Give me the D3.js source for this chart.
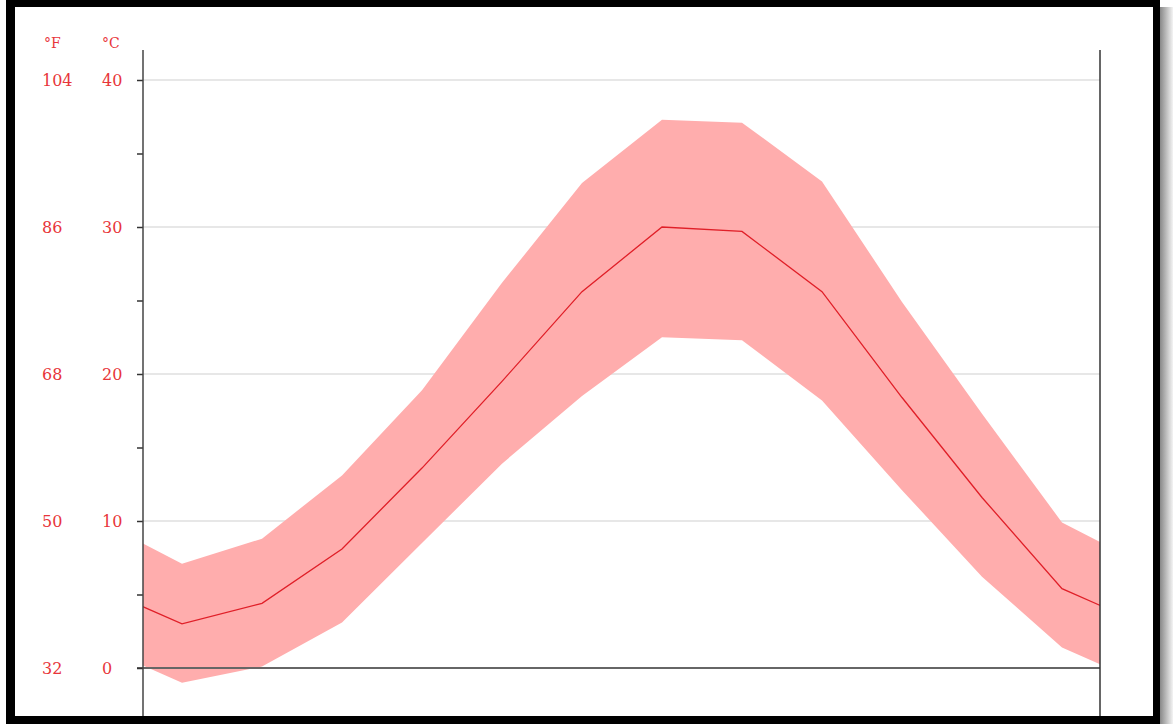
<!DOCTYPE html>
<html>
<head>
<meta charset="UTF-8">
<title>Climate chart</title>
<script src="https://d3js.org/d3.v7.min.js"></script>
<style>
  body { margin: 0; background: #fff; }
  svg text { font-family: "DejaVu Serif", serif; }
</style>
</head>
<body>
<div id="chart"></div>
<script>
// data (°C)
var months = ["Jan", "Feb", "Mar", "Apr", "May", "Jun", "Jul", "Aug", "Sep", "Oct", "Nov", "Dec"];
var tMean = [3.0, 4.4, 8.1, 13.6, 19.5, 25.6, 30.0, 29.7, 25.6, 18.4, 11.6, 5.4];
var tMax  = [7.1, 8.8, 13.1, 18.9, 26.2, 33.0, 37.3, 37.1, 33.1, 24.9, 17.3, 9.9];
var tMin  = [-1.0, 0.1, 3.1, 8.5, 13.9, 18.5, 22.5, 22.3, 18.2, 12.1, 6.2, 1.4];
var cTicks = [0, 10, 20, 30, 40];
var fTicks = [32, 50, 68, 86, 104];
var minorTicks = [5, 15, 25, 35];

var W = 1173, H = 724;
var plotLeft = 143, plotRight = 1100;

var svg = d3.select("#chart").append("svg")
  .attr("width", W)
  .attr("height", H);

var x = d3.scaleLinear().domain([0, 11]).range([182, 1062]);
var y = d3.scaleLinear().domain([0, 40]).range([668, 80]);

// wrap the year round so the curve runs to both edges
var rows = months.map(function(m, i) {
  return { i: i, mean: tMean[i], hi: tMax[i], lo: tMin[i] };
});
var wrapped = [{ i: -1, mean: tMean[11], hi: tMax[11], lo: tMin[11] }]
  .concat(rows)
  .concat([{ i: 12, mean: tMean[0], hi: tMax[0], lo: tMin[0] }]);

svg.append("defs").append("clipPath").attr("id", "plotclip")
  .append("rect")
  .attr("x", plotLeft).attr("y", 0)
  .attr("width", plotRight - plotLeft).attr("height", H);

// gridlines
svg.append("g")
  .selectAll("line")
  .data(cTicks.filter(function(d) { return d !== 0; }))
  .enter().append("line")
  .attr("x1", plotLeft).attr("x2", plotRight)
  .attr("y1", function(d) { return y(d); })
  .attr("y2", function(d) { return y(d); })
  .attr("stroke", "#cfcfcf")
  .attr("stroke-width", 1);

var plot = svg.append("g").attr("clip-path", "url(#plotclip)");

plot.append("path")
  .datum(wrapped)
  .attr("fill", "#ffadad")
  .attr("d", d3.area()
    .x(function(d) { return x(d.i); })
    .y0(function(d) { return y(d.lo); })
    .y1(function(d) { return y(d.hi); }));

plot.append("path")
  .datum(wrapped)
  .attr("fill", "none")
  .attr("stroke", "#e01f28")
  .attr("stroke-width", 1.3)
  .attr("d", d3.line()
    .x(function(d) { return x(d.i); })
    .y(function(d) { return y(d.mean); }));

// zero line
svg.append("line")
  .attr("x1", plotLeft - 6).attr("x2", plotRight)
  .attr("y1", y(0)).attr("y2", y(0))
  .attr("stroke", "#666")
  .attr("stroke-width", 2);

// left axis ticks
var ax = svg.append("g").attr("transform", "translate(" + plotLeft + ",0)");
ax.call(d3.axisLeft(y).tickValues(cTicks.concat(minorTicks)).tickSize(6).tickFormat(""));
ax.select(".domain").remove();
ax.selectAll(".tick line").attr("stroke", "#333").attr("stroke-width", 1.5);

// axis lines
svg.append("line")
  .attr("x1", plotLeft).attr("x2", plotLeft)
  .attr("y1", 50).attr("y2", H)
  .attr("stroke", "#444").attr("stroke-width", 1.5);
svg.append("line")
  .attr("x1", plotRight).attr("x2", plotRight)
  .attr("y1", 50).attr("y2", H)
  .attr("stroke", "#333").attr("stroke-width", 1.5);

// tick labels
var red = "#e8353a";
svg.append("g").selectAll("text")
  .data(cTicks)
  .enter().append("text")
  .attr("x", 102)
  .attr("y", function(d) { return y(d) + 5.5; })
  .attr("fill", red)
  .style("font-size", "16px")
  .text(function(d) { return d; });

svg.append("g").selectAll("text")
  .data(fTicks)
  .enter().append("text")
  .attr("x", 42)
  .attr("y", function(d, i) { return y(cTicks[i]) + 5.5; })
  .attr("fill", red)
  .style("font-size", "16px")
  .text(function(d) { return d; });

svg.append("text").attr("x", 44).attr("y", 48)
  .attr("fill", red).style("font-size", "14px").text("°F");
svg.append("text").attr("x", 102).attr("y", 48)
  .attr("fill", red).style("font-size", "14px").text("°C");

// picture frame
var grad = svg.select("defs").append("linearGradient").attr("id", "shade");
grad.append("stop").attr("offset", "0%").attr("stop-color", "#888");
grad.append("stop").attr("offset", "100%").attr("stop-color", "#f4f4f4");
svg.append("rect").attr("x", 1160).attr("y", 7).attr("width", 13).attr("height", H - 7)
  .attr("fill", "url(#shade)");
svg.append("rect").attr("x", 6).attr("y", 0).attr("width", 1154).attr("height", 7).attr("fill", "#000");
svg.append("rect").attr("x", 6).attr("y", 716).attr("width", 1154).attr("height", 8).attr("fill", "#000");
svg.append("rect").attr("x", 6).attr("y", 0).attr("width", 9).attr("height", H).attr("fill", "#000");
svg.append("rect").attr("x", 1153).attr("y", 0).attr("width", 7).attr("height", H).attr("fill", "#000");
</script>
</body>
</html>
